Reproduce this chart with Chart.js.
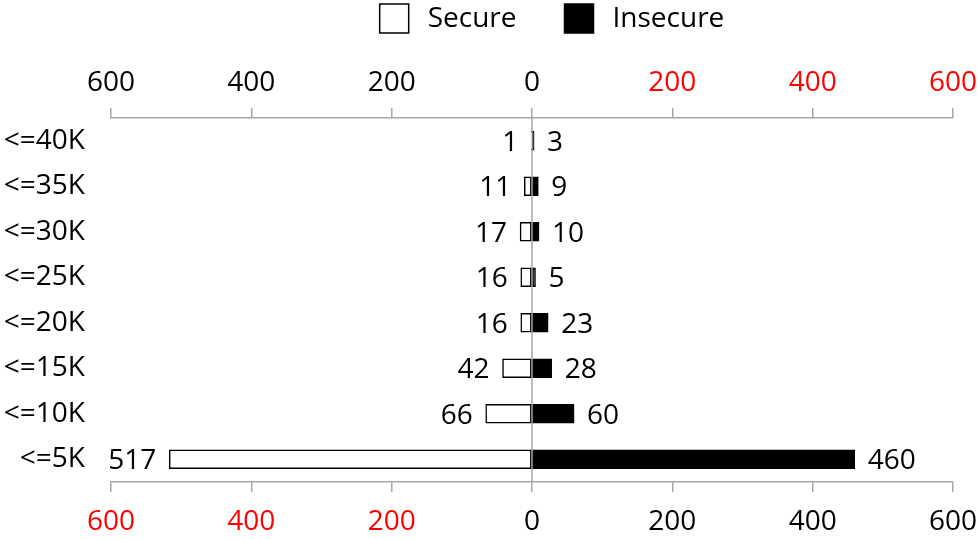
<!DOCTYPE html>
<html>
<head>
<meta charset="utf-8">
<script src="https://cdn.jsdelivr.net/npm/chart.js@4.4.0/dist/chart.umd.min.js"></script>
<style>
  html, body { margin: 0; padding: 0; background: #fff; }
  #wrap { width: 978px; height: 539px; position: relative; }
</style>
</head>
<body>
<div id="wrap"><canvas id="chart"></canvas></div>
<script>
// categories, top to bottom
var categories = ['<=40K', '<=35K', '<=30K', '<=25K', '<=20K', '<=15K', '<=10K', '<=5K'];
var secureValues = [1, 11, 17, 16, 16, 42, 66, 517];
var insecureValues = [3, 9, 10, 5, 23, 28, 60, 460];
var axisMin = -600, axisMax = 600, axisStep = 200;

var FONT = "'Open Sans', sans-serif";
var FSIZE = 28;
var axisGray = '#a6a6a6';

// value labels next to each bar end
var valueLabels = {
  id: 'valueLabels',
  afterDatasetsDraw: function(chart) {
    var ctx = chart.ctx;
    ctx.save();
    ctx.font = FSIZE + 'px ' + FONT;
    ctx.fillStyle = '#000';
    ctx.textBaseline = 'middle';
    chart.data.datasets.forEach(function(ds, i) {
      var meta = chart.getDatasetMeta(i);
      meta.data.forEach(function(bar, j) {
        var v = Math.abs(ds.data[j]);
        if (ds.data[j] < 0) {
          ctx.textAlign = 'right';
          ctx.fillText(v, bar.x - 13, bar.y + 2);
        } else {
          ctx.textAlign = 'left';
          ctx.fillText(v, bar.x + 13, bar.y + 2);
        }
      });
    });
    ctx.restore();
  }
};

// the gray zero line
var zeroLine = {
  id: 'zeroLine',
  beforeDatasetsDraw: function(chart) {
    var ctx = chart.ctx;
    var x = chart.scales.x.getPixelForValue(0);
    ctx.save();
    ctx.strokeStyle = axisGray;
    ctx.lineWidth = 1.5;
    ctx.beginPath();
    ctx.moveTo(x, chart.chartArea.top);
    ctx.lineTo(x, chart.chartArea.bottom);
    ctx.stroke();
    ctx.restore();
  }
};

// legend drawn by hand so the spacing matches
var topLegend = {
  id: 'topLegend',
  afterDraw: function(chart) {
    var ctx = chart.ctx;
    var box = 29, gapText = 19, gapItem = 48;
    ctx.save();
    ctx.font = FSIZE + 'px ' + FONT;
    var items = chart.data.datasets.map(function(ds) {
      return { text: ds.label, fill: ds.backgroundColor, w: ctx.measureText(ds.label).width };
    });
    var total = 0;
    items.forEach(function(it, i) { total += box + gapText + it.w + (i ? gapItem : 0); });
    var x = 552 - total / 2, y = 4;
    items.forEach(function(it) {
      ctx.fillStyle = it.fill;
      ctx.fillRect(x, y, box, box);
      ctx.strokeStyle = '#000';
      ctx.lineWidth = 1.5;
      ctx.strokeRect(x, y, box, box);
      ctx.fillStyle = '#000';
      ctx.textAlign = 'left';
      ctx.textBaseline = 'middle';
      ctx.fillText(it.text, x + box + gapText, y + box / 2 + 1);
      x += box + gapText + it.w + gapItem;
    });
    ctx.restore();
  }
};

function tickColorLeftRed(c) { return c.tick.value < 0 ? '#ff0000' : '#000'; }
function tickColorRightRed(c) { return c.tick.value > 0 ? '#ff0000' : '#000'; }

function noSidePadding(s) { s.paddingLeft = 0; s.paddingRight = 0; }

var config = {
  type: 'bar',
  data: {
    labels: categories,
    datasets: [{
      label: 'Secure',
      data: secureValues.map(function(v) { return -v; }),
      backgroundColor: '#ffffff',
      borderColor: '#000000',
      borderWidth: 1.5,
      borderSkipped: false,
      barThickness: 19
    }, {
      label: 'Insecure',
      data: insecureValues,
      backgroundColor: '#000000',
      borderColor: '#000000',
      borderWidth: 1.5,
      borderSkipped: false,
      barThickness: 19
    }]
  },
  options: {
    indexAxis: 'y',
    responsive: true,
    maintainAspectRatio: false,
    animation: false,
    layout: { padding: { left: 0, right: 25, top: 36, bottom: 0 } },
    plugins: {
      legend: { display: false },
      tooltip: { enabled: false }
    },
    scales: {
      x: {
        position: 'bottom',
        stacked: true,
        min: axisMin, max: axisMax,
        afterFit: function(s) { s.height = 57; noSidePadding(s); },
        ticks: {
          stepSize: axisStep,
          callback: function(v) { return Math.abs(v); },
          color: tickColorLeftRed,
          font: { family: FONT, size: FSIZE },
          padding: 13,
          maxRotation: 0
        },
        grid: { drawOnChartArea: false, tickLength: 10, color: axisGray, lineWidth: 1.5 },
        border: { color: axisGray, width: 1.5 }
      },
      x2: {
        position: 'top',
        min: axisMin, max: axisMax,
        afterFit: function(s) { s.height = 82; noSidePadding(s); },
        ticks: {
          stepSize: axisStep,
          callback: function(v) { return Math.abs(v); },
          color: tickColorRightRed,
          font: { family: FONT, size: FSIZE },
          padding: 8,
          maxRotation: 0
        },
        grid: { drawOnChartArea: false, tickLength: 10, color: axisGray, lineWidth: 1.5 },
        border: { color: axisGray, width: 1.5 }
      },
      y: {
        stacked: true,
        afterFit: function(s) { s.width = 111; },
        ticks: {
          color: '#000',
          font: { family: FONT, size: FSIZE },
          padding: 18
        },
        grid: { display: false },
        border: { display: false }
      }
    }
  },
  plugins: [zeroLine, valueLabels, topLegend]
};

window.onload = function() {
  var ctx = document.getElementById('chart');
  window.myBar = new Chart(ctx, config);
};
</script>
</body>
</html>
